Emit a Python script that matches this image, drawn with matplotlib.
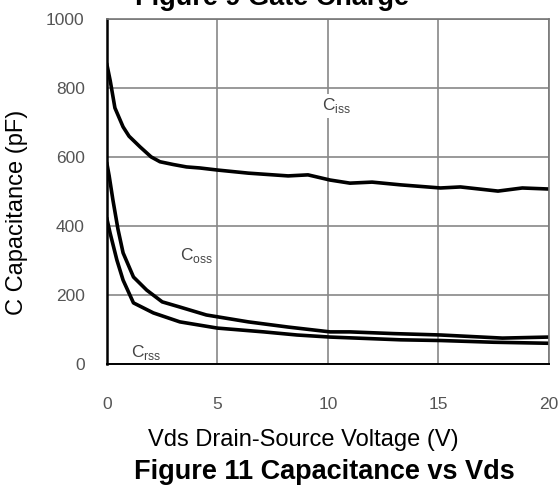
import matplotlib.pyplot as plt

plt.rcParams['font.family'] = ['Liberation Sans', 'DejaVu Sans']

# values
ciss_v = [0, 0.15, 0.36, 0.73, 1.0, 1.5, 2.0, 2.4, 3.0, 3.6, 4.2, 5.0, 6.4, 8.2, 9.1, 10.1, 11, 12, 13.3, 15.1, 16, 17.7, 18.8, 20]
ciss_c = [867, 820, 742, 687, 660, 629, 600, 586, 578, 571, 568, 562, 553, 545, 548, 533, 524, 527, 519, 510, 513, 501, 510, 507]

coss_v = [0, 0.1, 0.27, 0.5, 0.73, 1.2, 1.8, 2.5, 3.3, 4.5, 6.4, 8.2, 10.1, 11, 13, 15.1, 17.9, 20]
coss_c = [580, 545, 475, 390, 322, 252, 214, 180, 165, 142, 122, 107, 93, 93, 88, 84, 75, 78]

crss_v = [0, 0.14, 0.45, 0.73, 1.2, 2.1, 3.3, 5.0, 7.1, 8.6, 10.1, 13.3, 15.1, 17.5, 20]
crss_c = [420, 380, 301, 243, 177, 148, 122, 104, 93, 84, 78, 70, 68, 63, 60]

xticks = [0, 5, 10, 15, 20]
yticks = [0, 200, 400, 600, 800, 1000]

fig = plt.figure(figsize=(5.6, 4.93), dpi=100)
ax = fig.add_axes([0.191, 0.2617, 0.789, 0.7])

ax.plot(ciss_v, ciss_c, color='black', lw=2.6)
ax.plot(coss_v, coss_c, color='black', lw=2.6)
ax.plot(crss_v, crss_c, color='black', lw=2.6)

ax.set_xlim(0, 20)
ax.set_ylim(0, 1000)
ax.set_xticks(xticks)
ax.set_yticks(yticks)
ax.tick_params(length=0, labelsize=12.5, labelcolor='#555555')
ax.tick_params(axis='x', pad=24)
ax.tick_params(axis='y', pad=16)
ax.grid(True, color='#888888', lw=1.2)
for s in ['top', 'right']:
    ax.spines[s].set_color('#777777')
    ax.spines[s].set_linewidth(1.2)
ax.spines['bottom'].set_color('black')
ax.spines['bottom'].set_linewidth(1.4)
ax.spines['left'].set_color('black')
ax.spines['left'].set_linewidth(1.8)

ax.text(9.75, 748, 'C$_{\\mathregular{iss}}$', fontsize=12.5, color='#444444', va='center',
        bbox=dict(fc='white', ec='none', pad=2))
ax.text(3.3, 313, 'C$_{\\mathregular{oss}}$', fontsize=12.5, color='#444444', va='center',
        bbox=dict(fc='white', ec='none', pad=2))
ax.text(1.1, 32, 'C$_{\\mathregular{rss}}$', fontsize=12.5, color='#444444', va='center')

fig.text(0.030, 0.570, 'C Capacitance (pF)', fontsize=17, rotation=90, ha='center', va='center')
fig.text(0.541, 0.1075, 'Vds Drain-Source Voltage (V)', fontsize=17, ha='center', va='center')
fig.text(0.579, 0.0426, 'Figure 11 Capacitance vs Vds', fontsize=19.5, weight='bold', ha='center', va='center')
fig.text(0.486, 1 - 5 / 493, 'Figure 9 Gate Charge', fontsize=19.5, weight='bold', ha='center', va='baseline')

fig.savefig('out.png', dpi=100)
